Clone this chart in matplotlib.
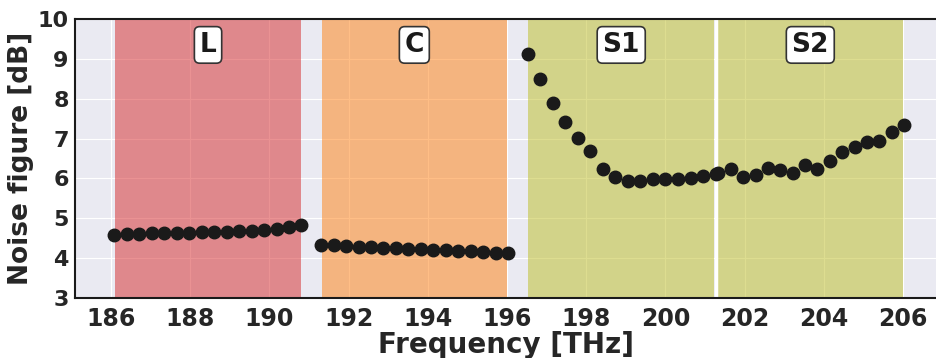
import matplotlib
matplotlib.use("Agg")
import matplotlib.pyplot as plt
import seaborn as sns

# --- data ------------------------------------------------------------
freq_L = [186.08, 186.40, 186.71, 187.03, 187.34, 187.66, 187.97, 188.29,
          188.60, 188.92, 189.23, 189.55, 189.86, 190.18, 190.49, 190.81]
nf_L = [4.59, 4.60, 4.61, 4.62, 4.62, 4.63, 4.64, 4.65,
        4.66, 4.66, 4.67, 4.68, 4.70, 4.72, 4.77, 4.83]

freq_C = [191.30, 191.62, 191.93, 192.25, 192.56, 192.88, 193.19, 193.51,
          193.82, 194.14, 194.45, 194.77, 195.08, 195.40, 195.71, 196.03]
nf_C = [4.33, 4.32, 4.31, 4.29, 4.28, 4.26, 4.25, 4.24,
        4.22, 4.20, 4.20, 4.19, 4.18, 4.15, 4.14, 4.13]

freq_S1 = [196.52, 196.84, 197.15, 197.47, 197.79, 198.10, 198.42, 198.74,
           199.05, 199.37, 199.69, 200.00, 200.32, 200.64, 200.95, 201.27]
nf_S1 = [9.12, 8.50, 7.89, 7.41, 7.01, 6.70, 6.24, 6.03,
         5.93, 5.93, 5.99, 5.99, 5.99, 6.02, 6.07, 6.12]

freq_S2 = [201.34, 201.65, 201.97, 202.28, 202.59, 202.90, 203.22, 203.53,
           203.84, 204.15, 204.47, 204.78, 205.09, 205.40, 205.72, 206.03]
nf_S2 = [6.14, 6.24, 6.04, 6.09, 6.27, 6.20, 6.14, 6.33,
         6.24, 6.43, 6.66, 6.79, 6.92, 6.95, 7.16, 7.35]

band_names = ["L", "C", "S1", "S2"]
band_start = [186.10, 191.32, 196.54, 201.32]
band_end = [190.80, 196.00, 201.23, 206.00]
band_colors = ["tab:red", "tab:orange", "tab:olive", "tab:olive"]

# --- style ------------------------------------------------------------
sns.set_style("darkgrid")
plt.rcParams["font.family"] = ["DejaVu Sans"]
plt.rcParams["font.weight"] = "bold"
text_col = "#262626"

fig = plt.figure(figsize=(9.36, 3.58), dpi=100)
ax = fig.add_axes([75 / 936, 60 / 358, 862 / 936, 279 / 358])

for name, a, b, c in zip(band_names, band_start, band_end, band_colors):
    ax.axvspan(a, b, color=c, alpha=0.5, lw=0)
    ax.text((a + b) / 2, 9.35, name, ha="center", va="center",
            fontsize=19, fontweight="bold", color="#1a1a1a",
            bbox=dict(boxstyle="round,pad=0.2", fc="white", ec="#333333", lw=1.2))

# white separator between S1 and S2
ax.axvline(201.28, color="white", lw=2.5)

for f, n in [(freq_L, nf_L), (freq_C, nf_C), (freq_S1, nf_S1), (freq_S2, nf_S2)]:
    ax.plot(f, n, "o", color="#1a1a1a", ms=9, zorder=3)

ax.set_xlim(185.09, 206.86)
ax.set_ylim(3, 10)
ax.set_xticks(range(186, 207, 2))
ax.set_yticks(range(3, 11))
ax.tick_params(axis="x", labelsize=17, colors=text_col, pad=3)
ax.tick_params(axis="y", labelsize=16, colors=text_col, pad=1)
for lab in ax.get_xticklabels() + ax.get_yticklabels():
    lab.set_fontweight("bold")

ax.set_xlabel("Frequency [THz]", fontsize=20, fontweight="bold", color=text_col, labelpad=0)
ax.set_ylabel("Noise figure [dB]", fontsize=19, fontweight="bold", color=text_col)
ax.yaxis.set_label_coords(-41 / 862, 0.5)

for side in ["left", "bottom", "top"]:
    ax.spines[side].set_visible(True)
    ax.spines[side].set_color("#1a1a1a")
    ax.spines[side].set_linewidth(1.5)
ax.spines["right"].set_visible(False)

fig.savefig("out.png", dpi=100)
